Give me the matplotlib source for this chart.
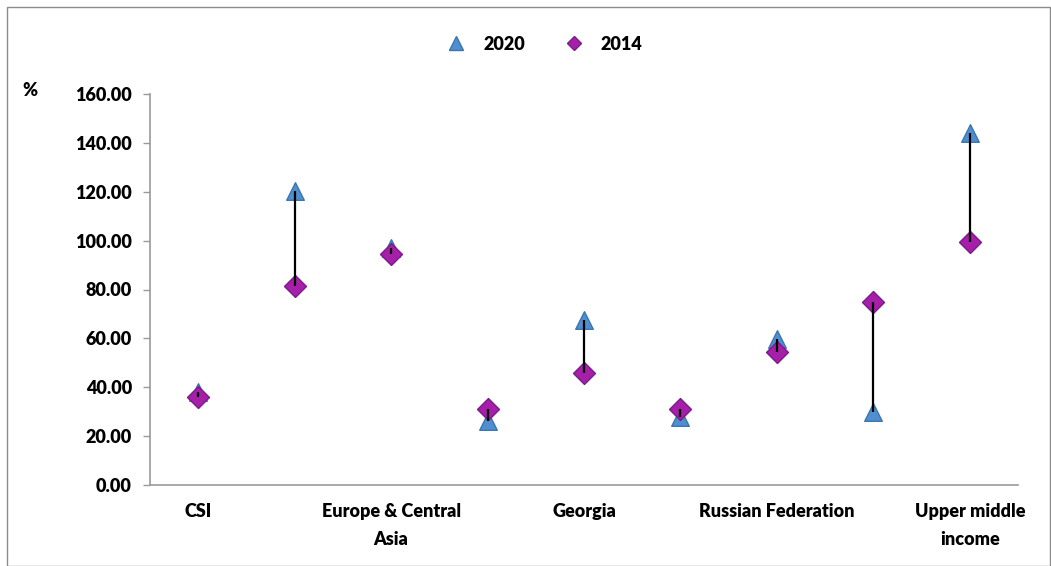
import matplotlib
matplotlib.use("Agg")
import matplotlib.pyplot as plt
from matplotlib.patches import Rectangle
from matplotlib.lines import Line2D

plt.rcParams['font.family'] = ['Lato', 'DejaVu Sans']

categories = ["CSI", "", "Europe & Central\nAsia", "", "Georgia", "",
              "Russian Federation", "", "Upper middle\nincome"]
values_2020 = [38.2, 120.2, 97.1, 26.3, 67.5, 28.0, 59.6, 30.0, 144.2]
values_2014 = [35.9, 81.5, 94.4, 31.0, 45.7, 31.0, 54.5, 75.0, 99.6]
y_ticks = [0, 20, 40, 60, 80, 100, 120, 140, 160]

W, H = 1051, 566
FW = "heavy"
fig = plt.figure(figsize=(W / 100, H / 100), dpi=100)
ax = fig.add_axes([150 / W, 1 - 485 / H, (1018 - 150) / W, (485 - 94) / H])

x = list(range(len(categories)))

# high-low connectors
for xi, a, b in zip(x, values_2020, values_2014):
    ax.plot([xi, xi], [a, b], color="black", lw=1.6, zorder=4,
            solid_capstyle="butt")

tri_fc, tri_ec = "#4F8FCF", "#3A75B0"
dia_fc, dia_ec = "#A51FA8", "#7A1C8A"
ax.scatter(x, values_2020, marker="^", s=160, facecolor=tri_fc,
           edgecolor=tri_ec, linewidth=1.0, zorder=2)
ax.scatter(x, values_2014, marker="D", s=125, facecolor=dia_fc,
           edgecolor=dia_ec, linewidth=1.0, zorder=3)

ax.set_xlim(-0.5, len(categories) - 0.5)
ax.set_ylim(0, 160)
ax.set_yticks(y_ticks)
ax.set_yticklabels([f"{v:.2f}" for v in y_ticks], fontsize=13,
                   fontweight=FW)
ax.set_xticks(x)
ax.set_xticklabels(categories, fontsize=13, fontweight=FW,
                   linespacing=1.75)
ax.tick_params(axis="x", length=0, pad=13)
ax.tick_params(axis="y", length=5, width=1, color="#9a9a9a", pad=8,
               direction="out")

for side in ("top", "right"):
    ax.spines[side].set_visible(False)
for side in ("left", "bottom"):
    ax.spines[side].set_color("#9a9a9a")
    ax.spines[side].set_linewidth(1.2)

fig.text(30 / W, 1 - 91 / H, "%", fontsize=13, fontweight=FW,
         ha="center", va="center")

handles = [
    Line2D([], [], ls="none", marker="^", markersize=10,
           markerfacecolor=tri_fc, markeredgecolor=tri_ec, label="2020"),
    Line2D([], [], ls="none", marker="D", markersize=7,
           markerfacecolor=dia_fc, markeredgecolor=dia_ec, label="2014"),
]
fig.legend(handles=handles, loc="center", bbox_to_anchor=(542 / W, 1 - 44 / H),
           ncol=2, frameon=False, prop={"size": 13, "weight": FW},
           handlelength=1.6, handletextpad=0.7, columnspacing=1.9)

# outer border
fig.patches.append(Rectangle((7 / W, 0), (1050 - 7) / W, 1 - 7 / H,
                             transform=fig.transFigure, fill=False,
                             edgecolor="#8c8c8c", lw=1.0))

fig.savefig("out.png", dpi=100)
